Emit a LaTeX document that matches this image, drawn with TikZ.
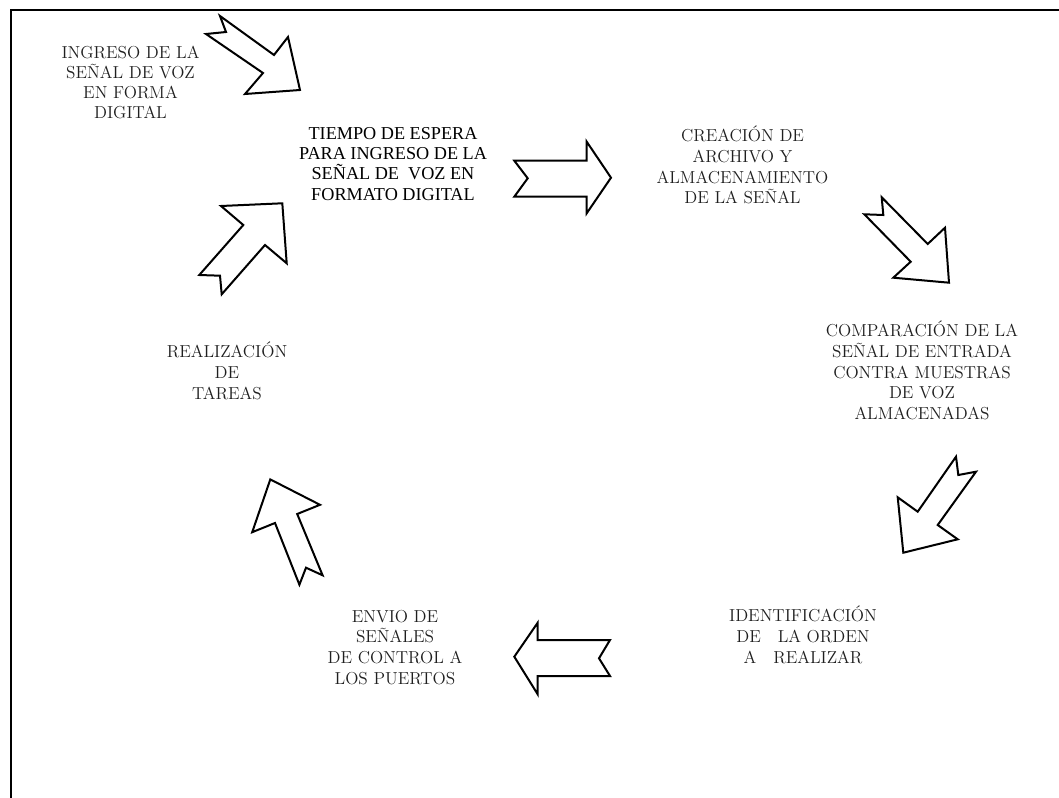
\documentclass[tikz,border=0pt]{standalone}
\usepackage{fontspec}
\newfontfamily\timesfont{Liberation Serif}
\begin{document}
\begin{tikzpicture}[x=0.75pt,y=-0.75pt,
  blockarrow/.style={draw=black,line width=1.5pt,line join=miter,fill=white},
  frameline/.style={draw=black,line width=1.5pt,line join=miter},
  % labels are placed by the baseline of their last line
  lbl/.style={inner sep=0pt,anchor=base,align=center,text=black!88,
    font=\fontsize{13}{15.5}\selectfont},
  lbltimes/.style={inner sep=0pt,anchor=base,align=center,text=black,
    font=\timesfont\fontsize{13.65}{15.2}\selectfont}]

\useasboundingbox (0,0) rectangle (1059,798);

% open frame: left and top edges
\coordinate (fbl) at (10.5,798);
\coordinate (ftl) at (10.5,10);
\coordinate (ftr) at (1059,10);
\draw[frameline] (fbl) -- (ftl) -- (ftr);

% step labels
\node[lbl,font=\fontsize{13}{15}\selectfont] (ingreso) at (130.5,119)
  {INGRESO DE LA\\SEÑAL DE VOZ\\EN FORMA\\DIGITAL};
\node[lbltimes] (espera) at (393,200.1)
  {TIEMPO DE ESPERA\\PARA INGRESO DE LA\\SEÑAL DE~\ VOZ EN\\FORMATO DIGITAL};
\node[lbl] (archivo) at (742.5,203.7)
  {CREACIÓN DE\\ARCHIVO Y\\ALMACENAMIENTO\\DE LA SEÑAL};
\node[lbl] (compara) at (922,419.4)
  {COMPARACIÓN DE LA\\SEÑAL DE ENTRADA\\CONTRA MUESTRAS\\DE VOZ\\ALMACENADAS};
\node[lbl] (identif) at (803,663)
  {IDENTIFICACIÓN\\DE~~~LA ORDEN\\A~~~REALIZAR};
\node[lbl] (envio) at (395,684)
  {ENVIO DE\\SEÑALES\\DE CONTROL A\\LOS PUERTOS};
\node[lbl] (tareas) at (227,399)
  {REALIZACIÓN\\DE\\TAREAS};

% notched block arrows
\draw[blockarrow] (220,16) -- (274,55) -- (288,37) -- (300,90) -- (245,94)
  -- (263,73) -- (206,34) -- (226,32) -- cycle;
\draw[blockarrow] (514.3,160.7) -- (586.7,160.7) -- (586.7,141.7) -- (611,177.7)
  -- (586.7,213.3) -- (586.7,196.7) -- (514.3,196.7) -- (527.7,178.3) -- cycle;
\draw[blockarrow] (881.7,197.3) -- (927.7,244) -- (945,227.7) -- (949,282.7)
  -- (893.3,277.7) -- (910.7,261.7) -- (864.3,214.3) -- (883.3,215) -- cycle;
\draw[blockarrow] (956,456.7) -- (917.7,511.7) -- (897.7,497.3) -- (903.3,552.7)
  -- (957.7,539.3) -- (937.7,525) -- (976,471.7) -- (958.3,475) -- cycle;
\draw[blockarrow] (514.3,656.7) -- (537.7,622.7) -- (537.7,640) -- (610,640)
  -- (599,658.3) -- (610,676) -- (537.7,676) -- (537.7,694.3) -- cycle;
\draw[blockarrow] (299.4,584.7) -- (275,523) -- (252.2,532.2) -- (270.3,479.4)
  -- (320,504.8) -- (297.2,514) -- (322.6,575.3) -- (306,567.7) -- cycle;
\draw[blockarrow] (221,206) -- (243.3,225) -- (199.3,275) -- (220,275.7)
  -- (221.7,294.3) -- (265,245) -- (286.7,263.3) -- (282.3,203.3) -- cycle;
\end{tikzpicture}
\end{document}
